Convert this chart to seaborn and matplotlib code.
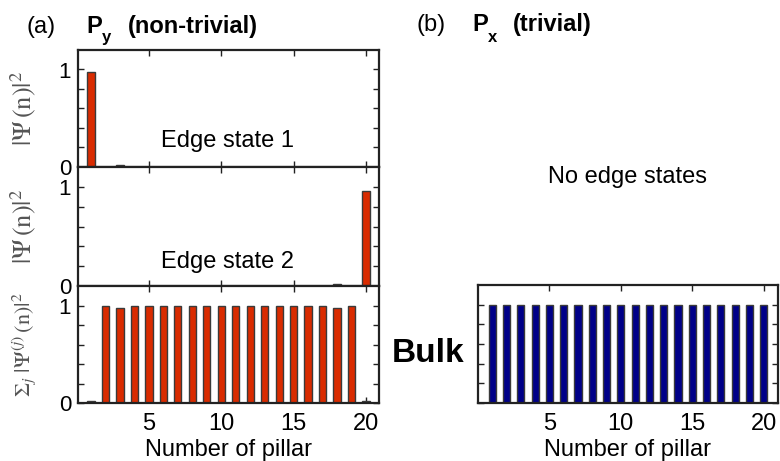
import numpy as np
import pandas as pd
import matplotlib
matplotlib.use("Agg")
import matplotlib.pyplot as plt
import seaborn as sns

sns.set_theme(style="white")
plt.rcParams['font.family'] = ['Liberation Sans', 'DejaVu Sans']
plt.rcParams['mathtext.fontset'] = 'stix'
plt.rcParams['text.color'] = 'black'
plt.rcParams['axes.labelcolor'] = 'black'

# Pillar index along the chain
pillars = list(range(1, 21))

# |Psi(n)|^2 for the two edge states of the non-trivial P_y chain
edge_state_1 = [0.97, 0.0, 0.02, 0.0, 0.0, 0.0, 0.0, 0.0, 0.0, 0.0,
                0.0, 0.0, 0.0, 0.0, 0.0, 0.0, 0.0, 0.0, 0.0, 0.0]
edge_state_2 = [0.0, 0.0, 0.0, 0.0, 0.0, 0.0, 0.0, 0.0, 0.0, 0.0,
                0.0, 0.0, 0.0, 0.0, 0.0, 0.0, 0.0, 0.02, 0.0, 0.96]
# Summed bulk weight for P_y (non-trivial) and P_x (trivial)
bulk_py = [0.02, 1.0, 0.97, 1.0, 1.0, 1.0, 1.0, 1.0, 1.0, 1.0,
           1.0, 1.0, 1.0, 1.0, 1.0, 1.0, 1.0, 0.97, 1.0, 0.02]
bulk_px = [1.0] * 20

xticks = [5, 10, 15, 20]
xlabel = "Number of pillar"

RED = "#d92b00"
BLUE = "#000088"
EDGE = "#3a3a3a"
LABEL_GRAY = "#555555"

W, H = 780, 461
fig = plt.figure(figsize=(W / 100, H / 100), dpi=100)


def px_axes(x0, y0, x1, y1):
    return fig.add_axes([x0 / W, 1 - y1 / H, (x1 - x0) / W, (y1 - y0) / H])


def style(ax, xlim, show_xlabels, show_ylabels):
    ax.set_xlim(*xlim)
    ax.set_ylim(0, 1.2)
    ax.set_xticks(xticks)
    ax.set_yticks([0, 0.2, 0.4, 0.6, 0.8, 1.0])
    if show_ylabels:
        ax.set_yticklabels(["0", "", "", "", "", "1"])
    else:
        ax.set_yticklabels([])
    if show_xlabels:
        ax.set_xticklabels([str(t) for t in xticks])
    else:
        ax.set_xticklabels([])
    ax.tick_params(direction="in", length=4, width=1.0, color="#222222",
                   top=True, right=True, left=True, bottom=True,
                   labelsize=16, labelcolor="black")
    ax.tick_params(axis="x", labelsize=17, pad=7)
    ax.tick_params(axis="y", pad=5)
    for s in ax.spines.values():
        s.set_visible(True)
        s.set_color("#222222")
        s.set_linewidth(1.6)
    ax.set_xlabel("")
    ax.set_ylabel("")


def bars(ax, values, color):
    df = pd.DataFrame({"n": pillars, "v": values})
    sns.barplot(data=df, x="n", y="v", native_scale=True, width=0.5,
                color=color, edgecolor=EDGE, linewidth=1.0,
                saturation=1, errorbar=None, ax=ax)


ax1 = px_axes(78, 50, 379, 167)
bars(ax1, edge_state_1, RED)
style(ax1, (0.1, 20.9), False, True)

ax2 = px_axes(78, 167, 379, 286)
bars(ax2, edge_state_2, RED)
style(ax2, (0.1, 20.9), False, True)

ax3 = px_axes(78, 286, 379, 403)
bars(ax3, bulk_py, RED)
style(ax3, (0.1, 20.9), True, True)
ax3.set_xlabel(xlabel, fontsize=17, labelpad=3)

ax4 = px_axes(478, 285, 778, 403)
bars(ax4, bulk_px, BLUE)
style(ax4, (0.0, 21.0), True, False)
ax4.set_xlabel(xlabel, fontsize=17, labelpad=3)

# Y labels
psi_label = r"$|\Psi\,(\mathrm{n})|^2$"
sum_label = r"$\Sigma_j\ |\Psi^{(j)}\,(\mathrm{n})|^2$"
for ax, lab, fs in ((ax1, psi_label, 19), (ax2, psi_label, 19), (ax3, sum_label, 16)):
    ax.set_ylabel(lab, fontsize=fs, color=LABEL_GRAY)
    ax.yaxis.set_label_coords(-0.133, 0.5)

# Panel annotations
fig.text(227 / W, 1 - 147 / H, "Edge state 1", fontsize=17, ha="center", va="baseline")
fig.text(227 / W, 1 - 268 / H, "Edge state 2", fontsize=17, ha="center", va="baseline")
fig.text(628 / W, 1 - 183 / H, "No edge states", fontsize=17, ha="center", va="baseline")
fig.text(428 / W, 1 - 362 / H, "Bulk", fontsize=24, fontweight="bold", ha="center", va="baseline")

# Titles
fig.text(27 / W, 1 - 33 / H, "(a)", fontsize=17, ha="left", va="baseline")
fig.text(86 / W, 1 - 33 / H, "P", fontsize=17, fontweight="bold", ha="left", va="baseline")
fig.text(102 / W, 1 - 42 / H, "y", fontsize=12, fontweight="bold", ha="left", va="baseline")
fig.text(128 / W, 1 - 33 / H, "(non-trivial)", fontsize=17, fontweight="bold", ha="left", va="baseline")

fig.text(416 / W, 1 - 31 / H, "(b)", fontsize=17, ha="left", va="baseline")
fig.text(472 / W, 1 - 31 / H, "P", fontsize=17, fontweight="bold", ha="left", va="baseline")
fig.text(488 / W, 1 - 42 / H, "x", fontsize=12, fontweight="bold", ha="left", va="baseline")
fig.text(513 / W, 1 - 31 / H, "(trivial)", fontsize=17, fontweight="bold", ha="left", va="baseline")

fig.savefig("out.png", dpi=100)
